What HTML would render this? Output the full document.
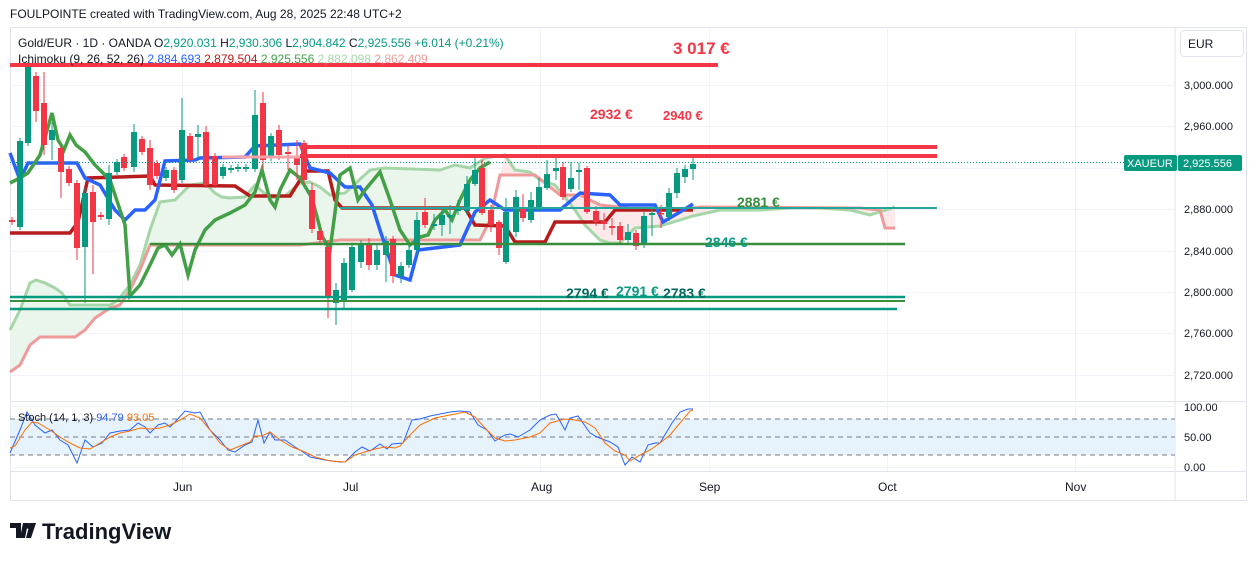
<!DOCTYPE html>
<html><head><meta charset="utf-8"><style>
html,body{margin:0;padding:0;background:#fff;width:1257px;height:561px;overflow:hidden}
svg{display:block;font-family:"Liberation Sans",sans-serif}
</style></head><body>
<svg id="s" width="1257" height="561" viewBox="0 0 1257 561" xmlns="http://www.w3.org/2000/svg">
<text x="10" y="18" font-size="12" fill="#131722">FOULPOINTE created with TradingView.com, Aug 28, 2025 22:48 UTC+2</text>
<rect x="10.5" y="27.5" width="1236" height="473" fill="none" stroke="#e0e3eb"/>
<line x1="1175" y1="27" x2="1175" y2="500" stroke="#e0e3eb"/>
<line x1="10" y1="401.5" x2="1246" y2="401.5" stroke="#e0e3eb"/>
<line x1="10" y1="471.5" x2="1246" y2="471.5" stroke="#e0e3eb"/>
<g id="grid" stroke="#f0f3fa" stroke-width="1"></g>
<rect x="10" y="419" width="1165" height="36" fill="#e3f2fd" opacity="0.9"/>
<g stroke="#787b86" stroke-dasharray="5,4" stroke-width="1">
<line x1="10" y1="419" x2="1175" y2="419"/><line x1="10" y1="437" x2="1175" y2="437"/><line x1="10" y1="455" x2="1175" y2="455"/></g>
<g id="cloud"></g>
<g id="lines"></g>
<g id="candles"></g>
<g id="hl"></g>
<line x1="10" y1="162.5" x2="1124" y2="162.5" stroke="#089981" stroke-dasharray="1,2"/>
<g font-size="14" font-weight="bold">
<text x="673" y="54" fill="#f23645" font-size="17">3 017 €</text>
<text x="590" y="119" fill="#f23645">2932 €</text>
<text x="663" y="120" fill="#f23645" font-size="13">2940 €</text>
<text x="737" y="207" fill="#388e3c">2881 €</text>
<text x="705" y="247" fill="#089981">2846 €</text>
<text x="566" y="298" fill="#00695c">2794 €</text>
<text x="616" y="296" fill="#089981">2791 €</text>
<text x="663" y="298" fill="#00695c">2783 €</text>
</g>
<g font-size="12">
<text x="18" y="47" fill="#131722">Gold/EUR · 1D · OANDA  <tspan fill="#131722">O</tspan><tspan fill="#089981">2,920.031</tspan>  H<tspan fill="#089981">2,930.306</tspan>  L<tspan fill="#089981">2,904.842</tspan>  C<tspan fill="#089981">2,925.556 +6.014 (+0.21%)</tspan></text>
<text x="18" y="63" fill="#131722">Ichimoku (9, 26, 52, 26) <tspan fill="#2962ff">2,884.693</tspan> <tspan fill="#b71c1c">2,879.504</tspan> <tspan fill="#43a047">2,925.556</tspan> <tspan fill="#a5d6a7">2,882.098</tspan> <tspan fill="#ef9a9a">2,862.409</tspan></text>
<text x="18" y="421" fill="#131722" font-size="11">Stoch (14, 1, 3) <tspan fill="#2962ff">94.79</tspan> <tspan fill="#ff6d00">93.05</tspan></text>
</g>
<rect x="1180.5" y="30.5" width="63" height="26" rx="4" fill="#fff" stroke="#e0e3eb"/>
<text x="1188" y="48" font-size="12" fill="#131722">EUR</text>
<g font-size="11" fill="#131722" id="ax"></g>
<rect x="1124" y="155" width="53" height="16" rx="2" fill="#089981"/>
<rect x="1178" y="155" width="64" height="16" rx="2" fill="#089981"/>
<text x="1127" y="167" font-size="11" fill="#fff">XAUEUR</text>
<text x="1183" y="167" font-size="11" fill="#fff">2,925.556</text>
<g font-size="12" fill="#131722">
<text x="173" y="491">Jun</text><text x="343" y="491">Jul</text><text x="531" y="491">Aug</text><text x="699" y="491">Sep</text><text x="878" y="491">Oct</text><text x="1065" y="491">Nov</text>
</g>
<g transform="translate(10,520)">
<path d="M0 3h11v15h-5V8H0z M13 3h5l-3 15h-5z" fill="#131722"/>
<circle cx="19" cy="6" r="3" fill="#131722"/>
<path d="M20 3h6l-5 15h-5z" fill="#131722"/>
<text x="32" y="19" font-size="22" font-weight="bold" fill="#131722">TradingView</text>
</g>
</svg>
<script>
var NS="http://www.w3.org/2000/svg";
function el(p,t,a){var e=document.createElementNS(NS,t);for(var k in a)e.setAttribute(k,a[k]);p.appendChild(e);return e}
function $(i){return document.getElementById(i)}
var G=$("grid");
[85,126,168,209,251,292,333,375].forEach(function(y){el(G,"line",{x1:10,y1:y+.5,x2:1175,y2:y+.5})});
[406,467].forEach(function(y){el(G,"line",{x1:10,y1:y+.5,x2:1175,y2:y+.5})});
[182,351,540,709,887,1075].forEach(function(x){el(G,"line",{x1:x+.5,y1:27,x2:x+.5,y2:471})});
var ax=$("ax");
[["3,000.000",85],["2,960.000",126],["2,880.000",209],["2,840.000",251],["2,800.000",292],["2,760.000",333],["2,720.000",375],["100.00",407],["50.00",437],["0.00",467]].forEach(function(a){var t=el(ax,"text",{x:1184,y:a[1]+4});t.textContent=a[0]});
function P(a){return a.map(function(p){return p.join(",")}).join(" ")}
var A=[[10,330],[20,310],[30,283],[36,280],[45,283],[55,288],[62,293],[70,305],[110,305],[118,300],[130,285],[140,265],[150,230],[160,202],[175,200],[190,185],[205,183],[215,193],[222,197],[230,198],[245,197],[255,185],[270,198],[285,196],[300,183],[310,182],[320,187],[330,195],[345,193],[370,170],[385,168],[440,170],[455,165],[470,168],[485,158],[505,155],[515,170],[530,172],[540,180],[555,185],[575,210],[585,225],[600,240],[610,243],[620,243],[635,228],[660,226],[680,220],[693,216],[720,210],[760,210],[790,208],[820,208],[850,210],[870,215],[895,207]];
var B=[[10,372],[20,365],[30,345],[40,337],[75,337],[85,330],[95,318],[110,308],[120,305],[130,290],[140,270],[150,245],[300,245],[340,240],[480,240],[490,220],[500,175],[535,175],[560,195],[580,195],[600,205],[620,207],[640,210],[680,210],[700,207],[860,208],[880,210],[885,228],[895,228]];
var C=$("cloud");
var ga=A.filter(function(p){return p[0]<=488}),gb=B.filter(function(p){return p[0]<=488}).reverse();
el(C,"polygon",{points:P(ga.concat([[488,157],[488,232]]).concat(gb)),fill:"#e8f5e9",opacity:.9});
var ra=A.filter(function(p){return p[0]>=488}),rb=B.filter(function(p){return p[0]>=488}).reverse();
el(C,"polygon",{points:P([[488,228]].concat(ra)).concat(" "+P(rb)),fill:"#fde4e4",opacity:.8});
var L=$("lines");
el(L,"polyline",{points:P(A),fill:"none",stroke:"#a5d6a7","stroke-width":3});
el(L,"polyline",{points:P(B),fill:"none",stroke:"#ef9a9a","stroke-width":3});
el(L,"polyline",{points:P([[10,233],[70,233],[78,222],[88,178],[150,176],[155,185],[235,186],[250,196],[290,196],[300,180],[305,171],[328,171],[335,200],[342,208],[465,208],[475,225],[505,226],[515,242],[545,242],[555,222],[605,222],[615,210],[693,210]]),fill:"none",stroke:"#b71c1c","stroke-width":3.5});
el(L,"polyline",{points:P([[10,153],[20,180],[28,163],[77,163],[85,178],[100,185],[115,210],[125,220],[135,210],[145,210],[155,200],[165,161],[195,160],[200,158],[245,157],[255,146],[300,144],[310,168],[330,173],[345,187],[360,187],[372,205],[380,230],[395,275],[410,280],[418,250],[460,245],[475,212],[490,200],[505,210],[560,210],[580,193],[610,195],[620,205],[655,205],[663,222],[680,212],[693,204]]),fill:"none",stroke:"#2962ff","stroke-width":3.5});
el(L,"polyline",{points:P([[10,183],[20,178],[28,173],[40,155],[52,113],[58,140],[64,150],[70,135],[76,145],[85,152],[95,165],[110,180],[125,225],[130,296],[140,285],[150,265],[158,248],[165,245],[172,255],[180,244],[188,275],[195,250],[205,230],[215,220],[230,213],[245,205],[255,192],[262,170],[270,200],[275,207],[280,190],[290,170],[300,178],[312,198],[322,236],[330,250],[340,175],[350,168],[358,200],[365,190],[380,172],[390,200],[400,230],[410,245],[420,237],[428,235],[435,220],[445,210],[452,220],[460,200],[470,180],[480,168],[490,162]]),fill:"none",stroke:"#43a047","stroke-width":3.5});
var H=$("hl");
[[10,718,65,"#f23645",4],[300,937,147,"#f23645",4],[300,937,156,"#f23645",4],[222,300,157,"#f7a1a8",3],[340,937,208,"#26a69a",2],[150,905,244,"#388e3c",2.5],[10,905,297,"#089981",2.5],[10,905,301,"#388e3c",2],[10,897,309,"#089981",2.5]].forEach(function(h){el(H,"line",{x1:h[0],x2:h[1],y1:h[2],y2:h[2],stroke:h[3],"stroke-width":h[4]})});
var D=[[12,220,222,0],[20,141,227,1,138,230],[28,65,143,1,62,146],[36,76,111,0,72,122],[44,103,145,0,72,155],[52,130,140,1,122,160],[61,148,172,0,146,198],[69,169,183,0],[77,183,248,0,180,260],[85,193,247,1,188,303],[93,192,222,0,185,274],[101,215,217,0],[109,173,219,1,165,225],[117,162,172,1],[124,157,168,0],[134,132,167,1,124,172],[142,139,152,0],[150,148,185,0,140,190],[157,163,176,0],[166,170,178,1],[174,170,190,0],[182,130,180,1,98,183],[190,136,160,0],[198,134,137,1,125,158],[206,132,185,0,126,188],[215,156,185,0],[223,167,176,1],[231,168,170,1],[238,167,169,1],[246,167,169,1],[255,115,169,1,90,172],[263,103,160,0,92,170],[271,136,158,1],[279,130,155,0,125,160],[288,152,154,0,145,170],[297,158,165,0,140,180],[304,143,180,0,140,185],[312,190,229,0,183,233],[320,231,240,0],[328,247,298,0,240,318],[336,290,303,1,283,325],[344,263,300,1,258,310],[352,247,290,1,243,292],[361,245,262,1,240,268],[369,243,265,0,238,270],[377,250,265,1,244,270],[386,241,255,1,236,282],[393,239,276,0,236,283],[401,266,276,1,262,283],[409,250,265,1,245,268],[417,220,250,1,212,255],[425,212,225,0,198,228],[434,224,226,1,214,230],[442,215,225,1,206,236],[450,215,217,1,205,234],[458,208,211,1,200,215],[467,184,211,1,176,215],[475,170,184,1,158,186],[482,168,213,0,160,215],[491,210,225,0,205,232],[499,222,248,0,220,255],[506,212,262,1,198,264],[516,197,232,1,190,237],[523,208,218,0,194,222],[531,200,220,1,192,223],[539,187,210,1,178,212],[547,174,188,1,160,190],[556,168,171,1,158,180],[563,167,197,0,162,200],[571,178,189,1,162,192],[579,170,172,1,163,190],[587,168,212,0,166,214],[596,211,222,0,206,226],[604,221,224,0,213,230],[612,226,228,0,218,235],[620,226,240,0,222,243],[628,232,240,1,224,243],[636,233,246,0,230,250],[644,216,245,1,212,248],[652,213,215,1,206,236],[661,213,214,0,205,228],[669,193,217,1,188,221],[677,173,193,1,168,198],[685,169,177,1,165,183],[693,164,169,1,158,180]];
var K=$("candles");
D.forEach(function(c){var col=c[3]?"#089981":"#f23645";var wt=c[4]||c[1]-3,wb=c[5]||c[2]+3;
el(K,"line",{x1:c[0],x2:c[0],y1:wt,y2:wb,stroke:col,"stroke-width":1});
el(K,"rect",{x:c[0]-3,y:c[1],width:6,height:Math.max(1.5,c[2]-c[1]),fill:col});});
el(L,"polyline",{points:P([[10,453],[20,430],[27,412],[35,425],[45,433],[52,430],[60,440],[68,445],[77,463],[85,440],[93,447],[102,443],[110,433],[120,431],[130,430],[138,423],[145,427],[150,433],[158,425],[165,423],[170,427],[175,422],[185,411],[195,413],[200,412],[210,430],[220,440],[228,450],[235,452],[245,445],[252,442],[258,420],[264,443],[270,432],[275,440],[285,440],[295,447],[303,452],[310,457],[325,460],[340,462],[345,462],[355,452],[362,447],[370,451],[380,444],[387,449],[392,444],[403,443],[412,420],[420,419],[430,416],[440,414],[450,412],[460,411],[470,412],[478,425],[487,430],[495,441],[505,435],[510,434],[518,437],[530,430],[540,420],[550,415],[556,414],[565,430],[570,418],[578,416],[590,433],[597,437],[610,442],[618,447],[625,465],[632,457],[640,462],[648,445],[655,443],[660,443],[672,423],[680,412],[688,409],[693,409]]),fill:"none",stroke:"#2962ff","stroke-width":1});
el(L,"polyline",{points:P([[10,448],[15,446],[25,430],[32,422],[38,423],[50,430],[60,437],[70,443],[80,448],[90,449],[100,443],[110,437],[120,433],[130,431],[140,428],[150,429],[160,428],[170,425],[180,420],[190,414],[200,418],[210,430],[220,443],[230,450],[240,446],[250,442],[255,436],[262,436],[270,432],[280,440],[292,447],[305,452],[315,457],[330,461],[345,462],[355,455],[365,452],[375,449],[385,447],[395,448],[400,446],[410,435],[420,425],[435,418],[450,415],[465,412],[475,417],[485,428],[495,438],[505,441],[515,440],[530,437],[540,433],[550,423],[565,419],[575,420],[585,422],[595,428],[605,443],[615,451],[625,455],[630,461],[640,455],[650,450],[660,443],[670,435],[680,423],[690,411],[693,410]]),fill:"none",stroke:"#ff6d00","stroke-width":1});
</script>
</body></html>
